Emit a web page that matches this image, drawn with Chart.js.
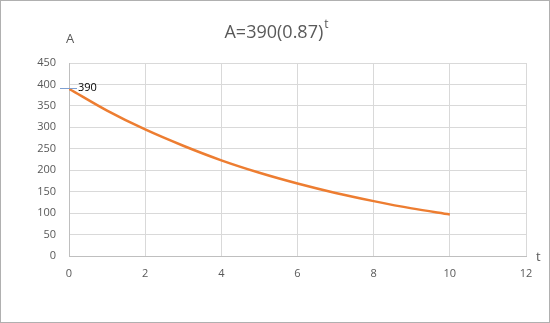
<!DOCTYPE html>
<html>
<head>
<meta charset="utf-8">
<script src="https://cdn.jsdelivr.net/npm/chart.js@4/dist/chart.umd.min.js"></script>
<style>
  html, body { margin: 0; padding: 0; background: #fff; }
  #wrap { width: 550px; height: 323px; position: relative; }
</style>
</head>
<body>
<div id="wrap"><canvas id="chart" width="550" height="323"></canvas></div>
<script>
// values
const tValues = [0, 1, 2, 3, 4, 5, 6, 7, 8, 9, 10];
const aValues = [390, 339, 295, 257, 223, 194, 169, 147, 128, 111, 97];
const titleText = "A=390(0.87)";
const titleSup = "t";
const yAxisLabel = "A";
const xAxisLabel = "t";
const pointLabel = "390";

const FONT = '"Open Sans", sans-serif';
const GREY = "#595959";

// title, axis names, data label and frame
const extrasPlugin = {
  id: "extras",
  afterDraw(chart) {
    const ctx = chart.ctx;
    const area = chart.chartArea;
    ctx.save();

    // outer frame
    ctx.strokeStyle = "#b0b0b0";
    ctx.lineWidth = 1;
    ctx.strokeRect(0.5, 0.5, chart.width - 1, chart.height - 1);

    // title with superscript
    ctx.fillStyle = GREY;
    ctx.textBaseline = "alphabetic";
    ctx.font = "18px " + FONT;
    const w1 = ctx.measureText(titleText).width;
    ctx.font = "12px " + FONT;
    const w2 = ctx.measureText(titleSup).width;
    const x0 = 275 - (w1 + w2) / 2 + 1;
    ctx.font = "18px " + FONT;
    ctx.textAlign = "left";
    ctx.fillText(titleText, x0, 38);
    ctx.font = "12px " + FONT;
    ctx.fillText(titleSup, x0 + w1 + 1, 28);

    // axis names
    ctx.font = "13px " + FONT;
    ctx.fillText(yAxisLabel, 66, 43);
    ctx.fillText(xAxisLabel, area.right + 10, area.bottom + 5);

    // data label with leader line at first point
    const pt = chart.getDatasetMeta(0).data[0];
    ctx.strokeStyle = "#7f9fd0";
    ctx.lineWidth = 1;
    ctx.beginPath();
    ctx.moveTo(pt.x - 9, Math.round(pt.y) - 0.5);
    ctx.lineTo(pt.x + 8, Math.round(pt.y) - 0.5);
    ctx.stroke();
    ctx.fillStyle = "#000";
    ctx.font = "11px " + FONT;
    ctx.textBaseline = "middle";
    ctx.fillText(pointLabel, pt.x + 9, pt.y - 1);

    ctx.restore();
  }
};

new Chart(document.getElementById("chart").getContext("2d"), {
  type: "line",
  data: {
    datasets: [{
      data: tValues.map((t, i) => ({x: t, y: aValues[i]})),
      borderColor: "#ed7d31",
      borderWidth: 2.5,
      pointRadius: 0,
      fill: false,
      cubicInterpolationMode: "monotone"
    }]
  },
  options: {
    responsive: false,
    animation: false,
    layout: {
      padding: {left: 0, top: 63, right: 24, bottom: 0}
    },
    plugins: {
      legend: {display: false},
      tooltip: {enabled: false}
    },
    scales: {
      x: {
        type: "linear",
        min: 0,
        max: 12,
        afterFit(scale) { scale.height = 67; },
        ticks: {stepSize: 2, padding: 11, color: GREY, font: {family: FONT, size: 11}},
        grid: {color: "#d9d9d9", drawTicks: false},
        border: {color: "#bfbfbf"}
      },
      y: {
        min: 0,
        max: 450,
        afterFit(scale) { scale.width = 69; },
        ticks: {stepSize: 50, padding: 13, color: GREY, font: {family: FONT, size: 11}},
        grid: {color: "#d9d9d9", drawTicks: false},
        border: {color: "#bfbfbf"}
      }
    }
  },
  plugins: [extrasPlugin]
});
</script>
</body>
</html>
